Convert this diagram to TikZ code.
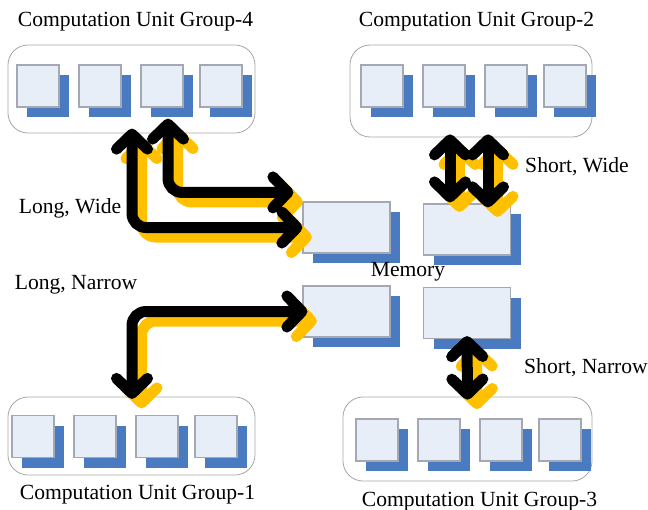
\documentclass[tikz,border=0pt]{standalone}
\usepackage{fontspec}
\setmainfont{Liberation Serif}
\usetikzlibrary{arrows.meta, calc, shadows}
\definecolor{unitfill} {HTML}{E8EEF8}
\definecolor{unitedge} {HTML}{A3A8B2}
\definecolor{unitshade}{HTML}{4A7BC0}
\definecolor{groupedge}{HTML}{A6A6A6}
\definecolor{busgold}  {HTML}{FFC000}
\definecolor{ink}      {HTML}{000000}

\tikzset{
  unit/.style={draw=unitedge, line width=1.2pt, fill=unitfill, inner sep=0pt,
    minimum width=42pt, minimum height=42pt,
    drop shadow={shadow xshift=10pt, shadow yshift=-10pt, fill=unitshade, opacity=1}},
  bank/.style={unit, minimum width=87pt, minimum height=51pt},
  group/.style={draw=groupedge, line width=0.8pt, rounded corners=20pt, inner sep=0pt},
  barb/.tip={Straight Barb[length=15pt, width=31pt, round]},
  bus/.style={line width=11pt, draw=ink, rounded corners=14pt, barb-barb,
    preaction={draw=busgold, line width=11pt, barb-barb,
      transform canvas={xshift=9.5pt, yshift=-9.5pt}}},
  lbl/.style={font=\fontsize{21.6}{24}\selectfont, inner sep=0pt}
}

\begin{document}
\begin{tikzpicture}[x=1pt, y=-1pt]
    \useasboundingbox (0,0) rectangle (648,509);

    % computation unit groups
    \node[group, minimum width=247pt, minimum height=88pt] (g4) at (131.5,89)  {};
    \node[group, minimum width=242pt, minimum height=92pt] (g2) at (471,91)    {};
    \node[group, minimum width=247pt, minimum height=78pt] (g1) at (131.5,436) {};
    \node[group, minimum width=249pt, minimum height=84pt] (g3) at (467.5,439) {};
    \foreach \g/\x/\y in {g4/38/86, g2/382/86, g1/33/436.5, g3/377/440}
      {\foreach \k/\dx in {a/0, b/62, c/124, d/183}
        {\node[unit] (\g\k) at (\x+\dx,\y) {};}}

    \node[lbl] (t4) at (135.5,22)  {Computation Unit Group-4};
    \node[lbl] (t2) at (476.5,22)  {Computation Unit Group-2};
    \node[lbl] (t1) at (137.5,495) {Computation Unit Group-1};
    \node[lbl] (t3) at (479.5,502) {Computation Unit Group-3};

    % memory banks
    \node[bank] (m1) at (346.5,227.5) {};
    \node[bank] (m2) at (467,229.5)   {};
    \node[bank] (m3) at (346.5,311.5) {};
    \node[bank] (m4) at (467,313)     {};
    \node[lbl] (mem) at (408,272) {Memory};

    % buses
    \draw[bus] ($(g4c.south)+(6,11)$) |- ($(m1.north west)+(-9,-9)$);
    \draw[bus] ($(g4b.south)+(32,21)$) |- (m1.west);
    \draw[bus] ($(m3.west)+(5,0)$) -| ($(g1c.north)+(-25,-16)$);
    \draw[bus] ($(g2.south)+(-21,-3)$) -- ($(m2.north)+(-17,-1)$);
    \draw[bus] ($(g2.south)+(17,-3)$) -- ($(m2.north)+(21,4)$);
    \draw[bus] ($(m4.south)+(0,-3)$) -- ($(g3.north)+(0,3)$);

    \node[lbl] (lw) at (70,208)  {Long, Wide};
    \node[lbl] (ln) at (76,285)  {Long, Narrow};
    \node[lbl] (sw) at (577,167) {Short, Wide};
    \node[lbl] (sn) at (586,368) {Short, Narrow};
\end{tikzpicture}
\end{document}
